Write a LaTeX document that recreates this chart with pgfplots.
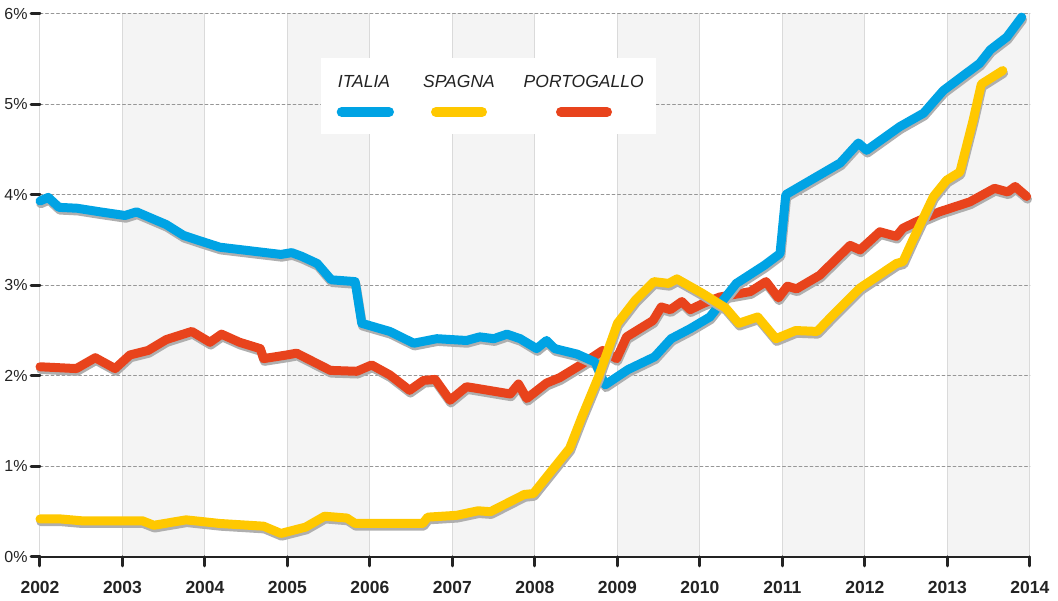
\documentclass[border=0pt]{standalone}
\usepackage{fontspec}
\setmainfont{Liberation Sans}
\usepackage{pgfplots}
\usepackage{pgfplotstable}
\pgfplotsset{compat=1.18}

\definecolor{italia}{RGB}{0,163,228}
\definecolor{spagna}{RGB}{255,200,0}
\definecolor{portogallo}{RGB}{232,67,28}
\definecolor{grigioombra}{RGB}{175,175,175}
\definecolor{banda}{RGB}{244,244,244}
\definecolor{vgrid}{RGB}{218,218,218}
\definecolor{hgrid}{RGB}{150,150,150}
\definecolor{scuro}{RGB}{35,35,35}

% rendimenti, valori
\pgfplotstableread{
x v
2002.00 3.93
2002.10 3.97
2002.23 3.86
2002.45 3.85
2002.73 3.81
2003.03 3.77
2003.17 3.81
2003.53 3.67
2003.74 3.55
2003.94 3.49
2004.18 3.42
2004.55 3.38
2004.92 3.34
2005.05 3.36
2005.17 3.32
2005.36 3.24
2005.53 3.06
2005.82 3.04
2005.90 2.58
2006.24 2.49
2006.53 2.36
2006.81 2.41
2007.17 2.39
2007.33 2.43
2007.50 2.41
2007.66 2.46
2007.82 2.41
2008.02 2.30
2008.14 2.39
2008.24 2.30
2008.51 2.24
2008.73 2.15
2008.85 1.90
2009.13 2.07
2009.45 2.21
2009.65 2.41
2009.88 2.52
2010.12 2.65
2010.44 3.02
2010.78 3.22
2010.97 3.35
2011.04 4.00
2011.70 4.35
2011.92 4.57
2012.02 4.49
2012.42 4.75
2012.71 4.90
2012.95 5.15
2013.39 5.45
2013.52 5.60
2013.72 5.74
2013.90 5.96
}\tabitalia

\pgfplotstableread{
x v
2002.00 0.42
2002.25 0.42
2002.50 0.40
2003.24 0.40
2003.38 0.35
2003.77 0.41
2004.18 0.37
2004.71 0.34
2004.92 0.26
2005.22 0.33
2005.45 0.45
2005.72 0.43
2005.82 0.37
2006.64 0.37
2006.70 0.44
2007.05 0.46
2007.31 0.51
2007.46 0.50
2007.87 0.69
2007.98 0.70
2008.42 1.20
2008.57 1.55
2008.77 1.99
2009.00 2.58
2009.22 2.84
2009.44 3.04
2009.62 3.02
2009.72 3.07
2010.03 2.91
2010.31 2.75
2010.47 2.58
2010.70 2.65
2010.92 2.41
2011.16 2.50
2011.42 2.49
2011.62 2.68
2011.94 2.97
2012.38 3.24
2012.46 3.26
2012.58 3.50
2012.83 3.98
2012.99 4.16
2013.15 4.25
2013.31 4.82
2013.41 5.22
2013.67 5.37
}\tabspagna

\pgfplotstableread{
x v
2002.00 2.10
2002.44 2.08
2002.67 2.20
2002.91 2.08
2003.09 2.23
2003.31 2.28
2003.53 2.40
2003.84 2.49
2004.06 2.37
2004.20 2.46
2004.42 2.37
2004.67 2.30
2004.71 2.19
2004.99 2.23
2005.11 2.25
2005.52 2.06
2005.84 2.05
2006.02 2.12
2006.24 2.01
2006.48 1.84
2006.65 1.95
2006.79 1.96
2006.97 1.73
2007.17 1.88
2007.70 1.80
2007.80 1.91
2007.90 1.75
2008.14 1.92
2008.30 1.98
2008.57 2.13
2008.82 2.28
2008.99 2.19
2009.11 2.43
2009.43 2.61
2009.53 2.76
2009.64 2.73
2009.78 2.82
2009.88 2.73
2010.04 2.80
2010.24 2.87
2010.61 2.93
2010.80 3.04
2010.95 2.86
2011.06 2.99
2011.17 2.96
2011.45 3.11
2011.82 3.44
2011.94 3.39
2012.18 3.59
2012.38 3.54
2012.46 3.63
2012.62 3.70
2012.90 3.81
2013.27 3.92
2013.57 4.07
2013.73 4.03
2013.82 4.09
2013.96 3.98
}\tabportogallo

\begin{document}
\begin{tikzpicture}
% bande grigie degli anni dispari (sfondo)
\foreach \a in {1,3,5,7,9,11} {
    \fill[banda] (82.5*\a pt,0pt) rectangle (82.5*\a pt+82.5pt,543.5pt);
}
\begin{axis}[
    at={(0pt,0pt)}, anchor=south west,
    scale only axis, width=990pt, height=543.5pt,
    clip=false,
    xmin=2002, xmax=2014, ymin=0, ymax=6,
    xtick={2002,...,2014}, ytick={0,...,6},
    axis x line*=bottom, axis y line*=left,
    y axis line style={draw=none},
    x axis line style={line width=2.2pt, color=scuro},
    xmajorgrids, ymajorgrids,
    major x grid style={color=vgrid, line width=1pt},
    major y grid style={color=hgrid, line width=0.9pt, dash pattern=on 3pt off 2.5pt},
    tick align=outside, major tick length=9pt,
    x tick style={line width=3pt, color=scuro},
    y tick style={line width=3pt, color=scuro},
    /pgf/number format/assume math mode=true,
    /pgf/number format/1000 sep={},
    xticklabel style={font=\fontsize{17.5}{19}\selectfont\bfseries, text=scuro, yshift=-12pt},
    yticklabel={\pgfmathprintnumber{\tick}\%},
    yticklabel style={font=\fontsize{16}{18}\selectfont, text=scuro, xshift=0pt},
    line join=round, line cap=round,
    ombra/.style={color=grigioombra, line width=9pt,
        x filter/.expression={x+0.01}, y filter/.expression={y-0.03}},
]
\addplot[ombra] table {\tabportogallo};
\addplot[portogallo, line width=9pt] table {\tabportogallo};
\addplot[ombra] table {\tabitalia};
\addplot[italia, line width=9pt] table {\tabitalia};
\addplot[ombra] table {\tabspagna};
\addplot[spagna, line width=9pt] table {\tabspagna};
\end{axis}

% legenda
\fill[white] (280.7pt,422.7pt) rectangle (616pt,498.7pt);
\begin{scope}[font=\fontsize{17.5}{19}\selectfont\itshape, text=scuro]
\node at (324pt,475.3pt) {ITALIA};
\node at (419pt,475.3pt) {SPAGNA};
\node at (543.7pt,475.3pt) {PORTOGALLO};
\end{scope}
\begin{scope}[line width=10pt, line cap=round]
\draw[italia] (301.7pt,445pt) -- (349pt,445pt);
\draw[spagna] (396pt,445pt) -- (442pt,445pt);
\draw[portogallo] (521pt,445pt) -- (567pt,445pt);
\end{scope}
\pgfresetboundingbox
\path[use as bounding box] (-40pt,-44pt) rectangle (1018pt,557pt);
\end{tikzpicture}
\end{document}
